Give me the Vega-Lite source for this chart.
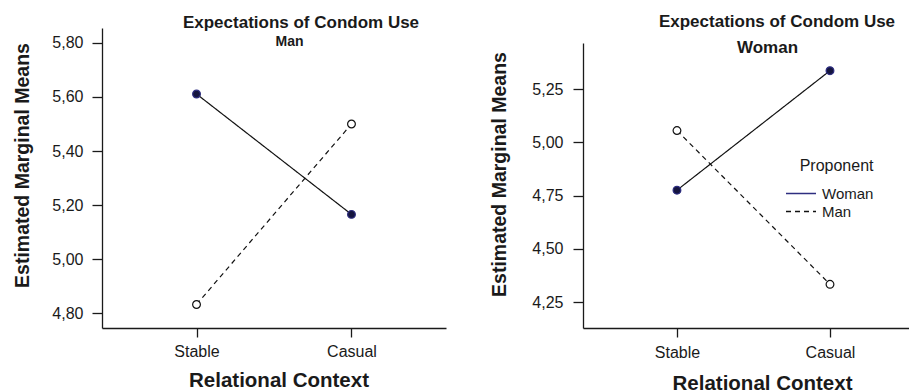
{
  "$schema": "https://vega.github.io/schema/vega-lite/v6.json",
  "padding": {"left": 12, "top": 12, "right": 0, "bottom": 0},
  "spacing": 43,
  "config": {
    "font": "Liberation Sans",
    "view": {"stroke": null},
    "axis": {
      "grid": false,
      "domainColor": "#1a1a1a",
      "domainWidth": 1.3,
      "tickColor": "#1a1a1a",
      "tickWidth": 1.3,
      "labelColor": "#1a1a1a",
      "titleColor": "#1a1a1a",
      "labelFontSize": 16,
      "labelFont": "Liberation Sans",
      "titleFont": "Liberation Sans"
    },
    "legend": {"labelFont": "Liberation Sans", "titleFont": "Liberation Sans"},
    "title": {"font": "Liberation Sans", "color": "#1a1a1a"}
  },
  "datasets": {
    "means": [
      {"panel": "Man", "context": "Stable", "proponent": "Woman", "mean": 5.611},
      {"panel": "Man", "context": "Casual", "proponent": "Woman", "mean": 5.166},
      {"panel": "Man", "context": "Stable", "proponent": "Man", "mean": 4.833},
      {"panel": "Man", "context": "Casual", "proponent": "Man", "mean": 5.5},
      {"panel": "Woman", "context": "Stable", "proponent": "Woman", "mean": 4.775},
      {"panel": "Woman", "context": "Casual", "proponent": "Woman", "mean": 5.336},
      {"panel": "Woman", "context": "Stable", "proponent": "Man", "mean": 5.055},
      {"panel": "Woman", "context": "Casual", "proponent": "Man", "mean": 4.333}
    ]
  },
  "hconcat": [
    {
      "width": 344,
      "height": 300,
      "data": {"name": "means"},
      "transform": [{"filter": "datum.panel === 'Man'"}],
      "title": {
        "text": "Expectations of Condom Use",
        "fontSize": 17,
        "fontWeight": "bold",
        "offset": -4,
        "dx": 27,
        "anchor": "middle"
      },
      "encoding": {
        "x": {
          "field": "context",
          "type": "nominal",
          "scale": {"type": "point", "domain": ["Stable", "Casual"], "padding": 0.61, "align": 0.5},
          "axis": {
            "orient": "bottom",
            "title": "Relational Context",
            "labelAngle": 0,
            "tickSize": 9,
            "labelPadding": 6,
            "titleFontSize": 20.5,
            "titleFontWeight": "bold",
            "titlePadding": 11,
            "titleX": 176.5
          }
        },
        "y": {
          "field": "mean",
          "type": "quantitative",
          "scale": {"domain": [4.746, 5.855], "nice": false, "zero": false},
          "axis": {
            "values": [4.8, 5.0, 5.2, 5.4, 5.6, 5.8],
            "labelExpr": "replace(format(datum.value, '.2f'), '.', ',')",
            "tickSize": 10,
            "labelPadding": 9,
            "title": "Estimated Marginal Means",
            "titleFontSize": 19.5,
            "titleFontWeight": "bold",
            "titlePadding": 19,
            "titleY": 137
          }
        }
      },
      "layer": [
        {
          "mark": {"type": "line", "color": "#111111", "strokeWidth": 1.2},
          "encoding": {
            "strokeDash": {
              "field": "proponent",
              "type": "nominal",
              "scale": {"domain": ["Woman", "Man"], "range": [[1, 0], [5, 4]]},
              "legend": null
            }
          }
        },
        {
          "mark": {"type": "circle", "size": 60, "strokeWidth": 1.2, "opacity": 1},
          "encoding": {
            "x": {
              "field": "context",
              "type": "nominal",
              "scale": {"type": "point", "domain": ["Stable", "Casual"], "padding": 0.61, "align": 0.5},
              "axis": {
                "orient": "top",
                "domain": false,
                "ticks": false,
                "labels": false,
                "title": "Man",
                "titleFontSize": 14,
                "titleFontWeight": "bold",
                "titleX": 187,
                "titleY": 17,
                "titleBaseline": "alphabetic",
                "titleAlign": "center"
              }
            },
            "fill": {
              "field": "proponent",
              "type": "nominal",
              "scale": {"domain": ["Woman", "Man"], "range": ["#15153f", "#ffffff"]},
              "legend": null
            },
            "stroke": {
              "field": "proponent",
              "type": "nominal",
              "scale": {"domain": ["Woman", "Man"], "range": ["#2e2e80", "#111111"]},
              "legend": null
            }
          }
        }
      ],
      "resolve": {"axis": {"x": "independent"}}
    },
    {
      "width": 329,
      "height": 300,
      "data": {"name": "means"},
      "transform": [{"filter": "datum.panel === 'Woman'"}],
      "title": {
        "text": "Expectations of Condom Use",
        "fontSize": 17,
        "fontWeight": "bold",
        "offset": -2.6,
        "dx": 29.5,
        "anchor": "middle"
      },
      "encoding": {
        "x": {
          "field": "context",
          "type": "nominal",
          "scale": {"type": "point", "domain": ["Stable", "Casual"], "padding": 0.575, "align": 0.534},
          "axis": {
            "orient": "bottom",
            "title": "Relational Context",
            "labelAngle": 0,
            "tickSize": 9,
            "labelPadding": 7,
            "titleFontSize": 20.5,
            "titleFontWeight": "bold",
            "titlePadding": 13,
            "titleX": 179
          }
        },
        "y": {
          "field": "mean",
          "type": "quantitative",
          "scale": {"domain": [4.128, 5.466], "nice": false, "zero": false, "range": [300, 15]},
          "axis": {
            "values": [4.25, 4.5, 4.75, 5.0, 5.25],
            "labelExpr": "replace(format(datum.value, '.2f'), '.', ',')",
            "tickSize": 10,
            "labelPadding": 10,
            "title": "Estimated Marginal Means",
            "titleFontSize": 19.5,
            "titleFontWeight": "bold",
            "titlePadding": 22,
            "titleY": 146
          }
        }
      },
      "layer": [
        {
          "mark": {"type": "line", "color": "#111111", "strokeWidth": 1.2},
          "encoding": {
            "strokeDash": {
              "field": "proponent",
              "type": "nominal",
              "scale": {"domain": ["Woman", "Man"], "range": [[1, 0], [5, 4]]},
              "legend": {
                "orient": "none",
                "legendX": 209.5,
                "legendY": 130,
                "title": "Proponent",
                "titleFontSize": 16,
                "titleFontWeight": "normal",
                "titleColor": "#1a1a1a",
                "titleAnchor": "end",
                "titlePadding": 11,
                "labelFontSize": 15,
                "labelColor": "#1a1a1a",
                "labelOffset": 12.5,
                "symbolType": "M-2,0H2",
                "symbolSize": 225,
                "symbolStrokeWidth": 1.3,
                "rowPadding": 1,
                "padding": 0,
                "encode": {
                  "symbols": {
                    "update": {
                      "stroke": {"signal": "datum.value === 'Woman' ? '#3f55b8' : '#111111'"}
                    }
                  }
                }
              }
            }
          }
        },
        {
          "mark": {"type": "circle", "size": 60, "strokeWidth": 1.2, "opacity": 1},
          "encoding": {
            "x": {
              "field": "context",
              "type": "nominal",
              "scale": {"type": "point", "domain": ["Stable", "Casual"], "padding": 0.575, "align": 0.534},
              "axis": {
                "orient": "top",
                "domain": false,
                "ticks": false,
                "labels": false,
                "title": "Woman",
                "titleFontSize": 17,
                "titleFontWeight": "bold",
                "titleX": 184,
                "titleY": 24,
                "titleBaseline": "alphabetic",
                "titleAlign": "center"
              }
            },
            "fill": {
              "field": "proponent",
              "type": "nominal",
              "scale": {"domain": ["Woman", "Man"], "range": ["#15153f", "#ffffff"]},
              "legend": null
            },
            "stroke": {
              "field": "proponent",
              "type": "nominal",
              "scale": {"domain": ["Woman", "Man"], "range": ["#2e2e80", "#111111"]},
              "legend": null
            }
          }
        }
      ],
      "resolve": {"axis": {"x": "independent"}}
    }
  ],
  "resolve": {
    "scale": {"strokeDash": "independent", "fill": "independent", "stroke": "independent"},
    "legend": {"strokeDash": "independent"}
  }
}
